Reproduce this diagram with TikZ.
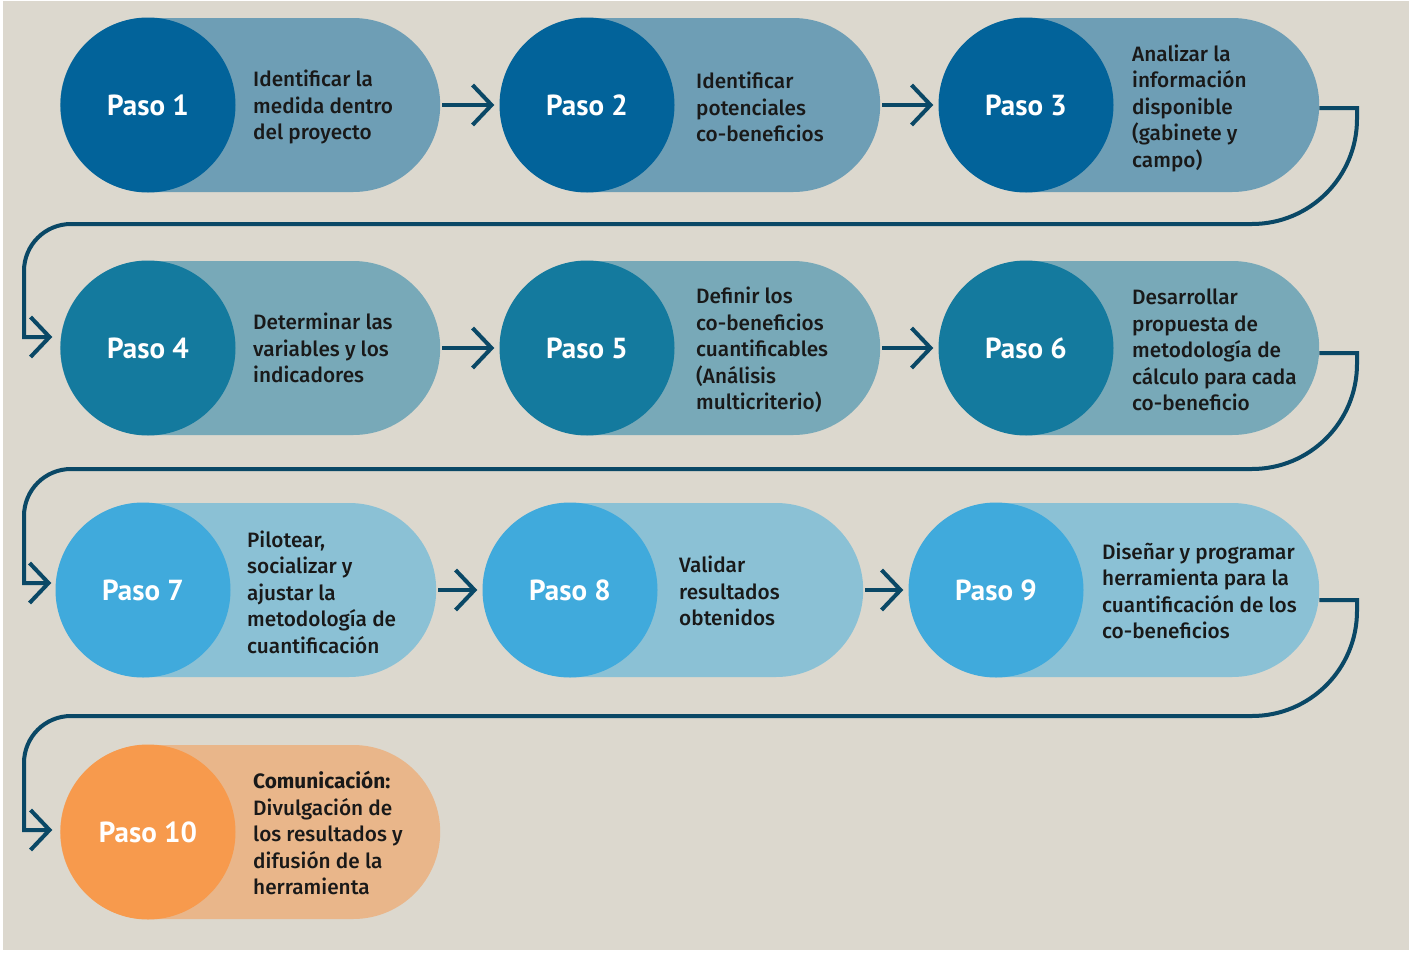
\documentclass[tikz,border=0pt]{standalone}
\usepackage{fontspec}
\setmainfont{PT Sans}
\newfontfamily\descfont{Fira Sans Medium}[BoldFont={Fira Sans Bold}]
\usetikzlibrary{positioning,calc,shapes.misc,arrows.meta}

\definecolor{fondo}{HTML}{DCD8CE}
\definecolor{azulA}{HTML}{02639A}
\definecolor{azulAc}{HTML}{6E9EB5}
\definecolor{azulB}{HTML}{147A9E}
\definecolor{azulBc}{HTML}{78A9B8}
\definecolor{azulC}{HTML}{40AADC}
\definecolor{azulCc}{HTML}{8BC1D5}
\definecolor{naranja}{HTML}{F79A4D}
\definecolor{naranjac}{HTML}{E9B68A}
\definecolor{linea}{HTML}{0A4866}

\begin{document}
\begin{tikzpicture}[x=1pt,y=-1pt,
    pill/.style={rounded rectangle, minimum height=174pt, minimum width=380pt, inner sep=0pt, anchor=west},
    paso/.style={circle, minimum size=175pt, inner sep=0pt, text=white, font=\bfseries\fontsize{29}{32}\selectfont},
    desc/.style={anchor=west, align=left, inner sep=0pt, text=black!90, font=\descfont\fontsize{20.8}{26.5}\selectfont},
    nextarrow/.style={draw=linea, line width=4pt, -{Straight Barb[length=19pt,width=40pt]}, shorten <=2pt, shorten >=5pt},
    link/.style={draw=linea, line width=4pt, -{Straight Barb[length=19pt,width=40pt]}}]

                    \useasboundingbox (0,0) rectangle (1409,953);
                    \fill[fondo] (3,1) rectangle (1409,950);

                    % fila 1
                    \node[pill, fill=azulAc] (b1) at (60,105) {};
                    \node[paso, fill=azulA] (s1) at (148,105) {Paso 1};
                    \node[desc] (t1) at (253,107) {Identificar la\\medida dentro\\del proyecto};
                    \node[pill, fill=azulAc] (b2) at (500,105) {};
                    \node[paso, fill=azulA] (s2) at (587,105) {Paso 2};
                    \node[desc] (t2) at (696,107) {Identificar\\potenciales\\co-beneficios};
                    \node[pill, fill=azulAc] (b3) at (939,105) {};
                    \node[paso, fill=azulA] (s3) at (1026,105) {Paso 3};
                    \node[desc] (t3) at (1132,108) {Analizar la\\información\\disponible\\(gabinete y\\campo)};

                    % fila 2
                    \node[pill, fill=azulBc] (b4) at (60,348) {};
                    \node[paso, fill=azulB] (s4) at (148,348) {Paso 4};
                    \node[desc] (t4) at (253,348) {Determinar las\\variables y los\\indicadores};
                    \node[pill, fill=azulBc] (b5) at (500,348) {};
                    \node[paso, fill=azulB] (s5) at (587,348) {Paso 5};
                    \node[desc] (t5) at (696,350) {Definir los\\co-beneficios\\cuantificables\\(Análisis\\multicriterio)};
                    \node[pill, fill=azulBc] (b6) at (939,348) {};
                    \node[paso, fill=azulB] (s6) at (1026,348) {Paso 6};
                    \node[desc] (t6) at (1132,350) {Desarrollar\\propuesta de\\metodología de\\cálculo para cada\\co-beneficio};

                    % fila 3
                    \node[pill, fill=azulCc] (b7) at (56,590) {};
                    \node[paso, fill=azulC] (s7) at (143,590) {Paso 7};
                    \node[desc] (t7) at (247,592) {Pilotear,\\socializar y\\ajustar la\\metodología de\\cuantificación};
                    \node[pill, fill=azulCc] (b8) at (483,590) {};
                    \node[paso, fill=azulC] (s8) at (570,590) {Paso 8};
                    \node[desc] (t8) at (679,591) {Validar\\resultados\\obtenidos};
                    \node[pill, fill=azulCc, minimum width=410pt] (b9) at (909,590) {};
                    \node[paso, fill=azulC] (s9) at (996,590) {Paso 9};
                    \node[desc] (t9) at (1102,591) {Diseñar y programar\\herramienta para la\\cuantificación de los\\co-beneficios};

                    % fila 4
                    \node[pill, fill=naranjac] (b10) at (60,832) {};
                    \node[paso, fill=naranja] (s10) at (148,832) {Paso 10};
                    \node[desc] (t10) at (253,833) {{\bfseries Comunicación:}\\Divulgación de\\los resultados y\\difusión de la\\herramienta};

                    % flechas
                    \draw[nextarrow] (b1.east) -- (s2.west);
                    \draw[nextarrow] (b2.east) -- (s3.west);
                    \draw[nextarrow] (b4.east) -- (s5.west);
                    \draw[nextarrow] (b5.east) -- (s6.west);
                    \draw[nextarrow] (b7.east) -- (s8.west);
                    \draw[nextarrow] (b8.east) -- (s9.west);

                    % conectores entre filas
                    \draw[link] ($(b3.east)+(0,3)$) -- (1357,108) -- (1357,119)
                        .. controls (1357,177) and (1310,224) .. (1252,224) -- (71,224)
                        .. controls (45,224) and (24,245) .. (24,271) -- (24,337) -- ($(s4.west)+(-8,-11)$);
                    \draw[link] ($(b6.east)+(0,5)$) -- (1357,353) -- (1357,364)
                        .. controls (1357,422) and (1310,469) .. (1252,469) -- (71,469)
                        .. controls (45,469) and (24,490) .. (24,516) -- (24,583) -- ($(s7.west)+(-4,-7)$);
                    \draw[link] ($(b9.east)+(0,10)$) -- (1357,600) -- (1357,611)
                        .. controls (1357,669) and (1310,716) .. (1252,716) -- (71,716)
                        .. controls (45,716) and (24,737) .. (24,763) -- (24,830) -- ($(s10.west)+(-8,-2)$);
                \end{tikzpicture}
\end{document}
